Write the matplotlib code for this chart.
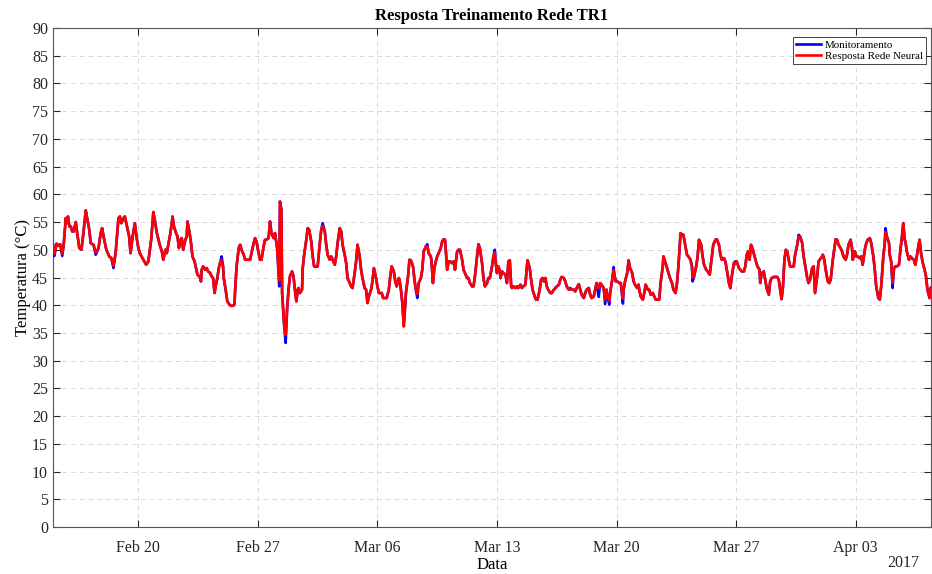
import pandas as pd
import matplotlib
matplotlib.use('Agg')
import matplotlib.pyplot as plt
import matplotlib.dates as mdates

plt.rcParams['font.family'] = ['Liberation Serif', 'DejaVu Serif']

# start of the training window, all samples are hours counted from here
inicio = pd.Timestamp('2017-02-15 00:00')
fim_horas = 1234

horas = [
    0, 2, 5, 8, 10, 13, 15, 18, 19, 21, 23, 25, 27, 29, 32, 34, 37, 40, 43, 46,
    48, 51, 53, 57, 60, 64, 67, 69, 72, 75, 79, 82, 85, 88, 92, 94, 96, 99, 101, 104,
    107, 109, 112, 115, 118, 120, 122, 127, 131, 134, 138, 141, 143, 146, 150,
    153, 155, 158, 160, 162, 165, 167, 168, 170, 173, 175, 177, 179, 181, 183, 186, 188, 189, 192, 194,
    196, 199, 201, 203, 206, 208, 209, 211, 214, 216, 218, 221, 223, 225, 227, 229, 231, 233, 236, 237,
    239, 240, 243, 245, 248, 250, 253, 255, 256, 258, 261, 263, 265, 268, 270, 275, 277, 279, 282, 284,
    286, 289, 291, 293, 296, 298, 300, 303, 305,
    307, 310, 312, 315, 318, 319, 321, 322, 325, 327, 329, 331, 333, 336, 338, 340, 342, 344, 345, 347,
    350, 351, 353, 356, 358, 360, 363, 365, 367, 370, 372, 375, 377, 379, 382, 384, 386, 389, 391, 393,
    396, 398, 400, 403, 405, 407, 410, 412, 414, 417, 419, 421, 424, 426, 428, 431, 433, 435, 438, 440,
    442, 444, 447, 449, 451, 454, 456, 458,
    462, 464, 467, 469, 472, 474, 476, 479, 481, 483, 486, 487, 489, 491, 493, 494, 496, 499, 501, 503,
    506, 508, 510, 512, 514, 517, 519, 521, 524, 526, 528, 531, 532, 534, 536, 538, 540, 542, 545, 547,
    549, 551, 554, 556, 558, 561, 563, 565, 568, 570, 572, 575, 577, 579, 582, 584, 586, 589, 591, 593,
    596, 598, 600, 603, 605, 607, 610, 612,
    614, 617, 619, 621, 622, 624, 626, 628, 629, 631, 633, 636, 638, 640, 642, 644, 645, 647, 650, 652,
    654, 657, 659, 661, 664, 666, 667, 670, 672, 674, 677, 679, 681, 684, 686, 688, 690, 692, 694, 696,
    699, 701, 704, 706, 708, 711, 713, 715, 718, 720, 722, 725, 727, 729, 732, 734, 736, 739, 741, 743,
    746, 748, 750, 753, 755, 757, 760, 762, 764, 767,
    769, 771, 774, 776, 778, 779, 782, 783, 786, 788, 789, 791, 793, 796, 798, 801, 802, 804, 807, 809,
    811, 814, 816, 818, 821, 823, 824, 826, 829, 831, 833, 836, 838, 840, 843, 845, 847, 850, 852, 854,
    857, 858, 861, 863, 865, 868, 870, 872, 875, 877, 879, 882, 884, 886, 889, 891, 893, 896, 898, 899,
    901, 904, 906, 908, 911, 913, 915, 918, 920,
    923, 926, 928, 931, 933, 936, 938, 940, 943, 945, 947, 950, 952, 954, 957, 959, 961, 964, 966, 968,
    971, 973, 975, 977, 979, 981, 983, 986, 988, 990, 993, 994, 996, 999, 1001, 1003, 1006, 1008, 1010, 1013,
    1015, 1018, 1020, 1022, 1024, 1026, 1028, 1030, 1032, 1034, 1036, 1039, 1041, 1043, 1046, 1048, 1050, 1053, 1055, 1057,
    1060, 1062, 1064, 1067, 1069, 1071, 1074, 1076,
    1081, 1082, 1084, 1086, 1089, 1091, 1093, 1096, 1097, 1100, 1102, 1104, 1107, 1109, 1111, 1114, 1116, 1118, 1121, 1123,
    1124, 1127, 1129, 1131, 1134, 1136, 1138, 1141, 1143, 1145, 1148, 1150, 1153, 1155, 1157, 1160, 1162, 1164, 1167, 1169,
    1170, 1172, 1175, 1176, 1178, 1180, 1182, 1184, 1186, 1189, 1191, 1193, 1195, 1197, 1198, 1200, 1203, 1205, 1207, 1210,
    1212, 1214, 1217, 1218, 1220, 1222, 1225, 1227, 1229, 1232, 1233, 1234,
]

# network output (degrees C)
rede_neural = [
    50.9, 49.3, 51.1, 50.7, 51.0, 49.3, 50.9, 55.7, 54.8, 56.0, 54.2, 54.2, 53.3, 53.3, 55.0, 53.0, 50.3, 50.0, 53.3, 57.1,
    55.7, 53.6, 51.2, 50.9, 49.5, 50.3, 53.0, 53.9, 51.8, 50.0, 48.8, 48.5, 47.1, 49.4, 55.7, 56.0, 54.8, 55.7, 56.0, 54.2,
    52.4, 49.4, 52.4, 54.8, 51.8, 50.3, 49.4, 48.2, 47.3, 47.9, 51.8, 56.8, 55.4, 53.0, 50.9,
    49.7, 48.2, 50.0, 49.4, 50.9, 53.0, 54.8, 56.0, 54.2, 53.0, 52.4, 50.3, 51.8, 52.1, 50.0, 51.8, 52.4, 55.1, 53.0, 51.2,
    48.8, 47.9, 46.7, 45.5, 45.2, 44.3, 46.4, 47.0, 46.4, 46.7, 46.1, 45.8, 45.2, 44.9, 42.2, 43.7, 44.9, 46.7, 48.2, 47.8,
    47.0, 44.9, 42.5, 40.7, 40.1, 39.9, 39.9, 40.1, 42.8, 47.0, 50.3, 50.9, 50.0, 49.1, 48.2, 48.2, 48.2, 49.4, 51.2, 52.1,
    51.5, 49.4, 48.2, 48.2, 50.6, 51.8, 51.8, 52.1, 55.1,
    53.0, 52.1, 53.0, 50.3, 44.5, 58.7, 57.2, 42.2, 36.2, 34.6, 39.2, 42.8, 45.2, 46.1, 45.2, 42.8, 40.7, 42.8, 43.1, 42.2,
    42.8, 46.7, 49.1, 51.8, 53.9, 53.6, 51.5, 48.8, 47.0, 47.0, 47.0, 51.2, 53.6, 54.3, 53.3, 50.9, 49.1, 48.2, 48.8, 48.2,
    47.3, 48.8, 51.2, 53.9, 53.3, 50.9, 49.1, 47.6, 44.9, 44.0, 43.4, 43.1, 45.8, 47.9, 50.9, 48.8, 46.4, 44.9, 43.1, 42.8,
    40.4, 41.6, 42.8, 44.3, 46.7, 44.9, 43.4, 42.2,
    42.2, 41.3, 41.3, 41.3, 42.8, 45.2, 47.0, 46.1, 44.3, 43.4, 44.9, 44.6, 42.8, 40.4, 36.2, 38.0, 42.2, 45.2, 48.2, 48.1,
    47.0, 44.6, 42.8, 42.0, 44.0, 44.9, 46.4, 49.7, 50.6, 50.6, 49.4, 48.8, 47.9, 44.0, 46.7, 47.9, 48.8, 49.4, 50.3, 51.5,
    51.9, 51.8, 46.4, 47.9, 47.9, 47.6, 47.9, 46.4, 49.7, 50.0, 50.0, 48.2, 46.4, 45.8, 44.9, 44.9, 44.0, 43.4, 43.4, 45.2,
    48.8, 51.0, 50.3, 47.6, 44.9, 43.4, 44.0, 44.9,
    44.9, 47.0, 48.8, 49.5, 47.9, 45.8, 47.0, 46.1, 44.9, 46.1, 45.8, 45.5, 44.0, 47.9, 48.1, 43.4, 43.1, 43.4, 43.1, 43.4,
    43.1, 43.7, 43.1, 43.4, 43.7, 47.0, 48.1, 46.7, 44.6, 42.8, 41.6, 41.0, 41.0, 42.8, 44.6, 44.9, 44.3, 44.9, 43.4, 42.8,
    42.2, 42.2, 42.8, 43.1, 43.4, 43.7, 44.6, 45.1, 44.9, 44.3, 43.4, 42.8, 43.1, 42.8, 42.8, 42.5, 43.1, 43.8, 42.8, 41.9,
    41.3, 42.2, 42.8, 43.1, 41.9, 41.3, 41.6, 42.8, 44.0, 43.0,
    44.0, 43.7, 43.1, 41.0, 42.8, 41.6, 40.8, 42.2, 44.6, 46.3, 45.5, 44.3, 44.3, 44.0, 44.0, 41.2, 42.8, 44.3, 45.8, 48.1,
    46.7, 45.8, 44.3, 43.7, 43.1, 43.7, 42.8, 41.6, 41.0, 42.2, 43.7, 42.8, 42.8, 41.9, 42.2, 41.6, 41.0, 41.0, 41.0, 44.0,
    47.0, 48.8, 47.6, 46.7, 45.8, 44.6, 44.0, 42.8, 42.2, 44.0, 47.0, 53.0, 52.7, 52.7, 50.6, 49.1, 48.8, 48.2, 47.0, 45.0,
    45.2, 47.0, 48.8, 51.8, 50.9, 48.8, 47.3, 46.4, 46.1,
    45.5, 48.8, 50.9, 51.8, 51.9, 50.9, 49.1, 48.2, 48.5, 47.9, 46.4, 44.0, 43.1, 45.2, 47.6, 47.4, 47.9, 46.7, 46.4, 46.1,
    46.1, 47.0, 49.1, 49.7, 48.2, 50.9, 50.3, 48.8, 47.9, 47.0, 46.4, 44.0, 45.8, 46.1, 44.6, 43.1, 41.9, 44.3, 44.9, 45.1,
    45.1, 45.1, 44.6, 42.8, 41.1, 43.4, 48.2, 50.0, 49.7, 48.2, 47.0, 47.0, 47.0, 49.1, 50.9, 52.3, 52.4, 51.2, 48.8, 47.3,
    44.9, 44.0, 44.6, 46.7, 47.0, 42.2, 45.2, 47.9,
    48.8, 49.1, 48.2, 46.4, 44.3, 44.0, 44.6, 48.2, 49.1, 51.9, 51.8, 50.9, 50.3, 49.7, 48.8, 48.2, 49.1, 50.9, 51.8, 50.3,
    48.2, 49.7, 48.8, 48.8, 48.5, 48.8, 47.3, 50.0, 51.2, 51.8, 52.1, 51.2, 48.8, 46.4, 43.4, 41.3, 41.0, 43.4, 48.8, 51.2,
    53.2, 52.4, 51.2, 49.1, 47.9, 44.0, 46.7, 47.0, 47.0, 47.3, 50.0, 52.1, 54.8, 51.8, 51.5, 49.7, 48.2, 48.8, 48.5, 48.2,
    47.3, 48.8, 51.2, 51.8, 49.4, 47.9, 46.4, 45.2, 42.8, 41.3, 42.8, 43.2,
]

# hours where the measured temperature differs from the network output
horas_medida = [2, 13, 60, 85, 237, 318, 327, 379, 512, 526, 621,
                767, 776, 782, 788, 801, 899, 959, 1048, 1170, 1180]
valores_medida = [48.9, 48.9, 49.1, 46.7, 48.8, 43.4, 33.2, 54.8, 41.3, 51.0, 50.0,
                  41.5, 40.2, 40.1, 46.9, 40.3, 44.3, 47.9, 52.7, 53.9, 43.1]

datas_ticks = ['2017-02-20', '2017-02-27', '2017-03-06', '2017-03-13',
               '2017-03-20', '2017-03-27', '2017-04-03']

assert len(horas) == len(rede_neural)

monitoramento = list(rede_neural)
for h, v in zip(horas_medida, valores_medida):
    monitoramento[horas.index(h)] = v

tempo = inicio + pd.to_timedelta(horas, unit='h')

fig = plt.figure(figsize=(9.32, 5.74), dpi=100)
ax = fig.add_axes([53 / 932, 1 - 527 / 574, 878 / 932, 499 / 574])

ax.plot(tempo, monitoramento, color='#0000ff', lw=1.9, label='Monitoramento', zorder=3)
ax.plot(tempo, rede_neural, color='#ff0000', lw=1.9, label='Resposta Rede Neural', zorder=4)

ax.set_xlim(inicio, inicio + pd.Timedelta(hours=fim_horas))
ax.set_ylim(0, 90)
ax.set_yticks(range(0, 91, 5))
ax.set_xticks(pd.to_datetime(datas_ticks))
ax.xaxis.set_major_formatter(mdates.DateFormatter('%b %d'))

# matlab-like axes: inward ticks on every side, dashed light grid
ax.tick_params(direction='in', length=5, width=0.8, colors='#262626',
               labelsize=11.5, top=True, right=True)
ax.tick_params(axis='x', pad=9.5)
ax.tick_params(axis='y', pad=3.5)
for s in ax.spines.values():
    s.set_color('#555555')
    s.set_linewidth(0.8)
ax.grid(True, color='#d9d9d9', linestyle=(0, (5, 4)), linewidth=0.7, zorder=0)
ax.set_axisbelow(True)

ax.set_title('Resposta Treinamento Rede TR1', fontsize=12, fontweight='bold', pad=6)
ax.set_ylabel('Temperatura (°C)', fontsize=12, labelpad=0.5)
ax.set_xlabel('Data', fontsize=12, labelpad=0.5)
fig.text(919 / 932, 1 - 563 / 574, '2017', fontsize=11.5, ha='right', va='center',
         color='#262626')

leg = ax.legend(loc='upper right', bbox_to_anchor=(0.9943, 0.982), borderaxespad=0,
                fontsize=7.9, handlelength=2.3, handletextpad=0.3, labelspacing=0.1,
                borderpad=0.3, fancybox=False, framealpha=1, edgecolor='#262626')
leg.get_frame().set_linewidth(0.6)

fig.savefig('out.png', dpi=100)
